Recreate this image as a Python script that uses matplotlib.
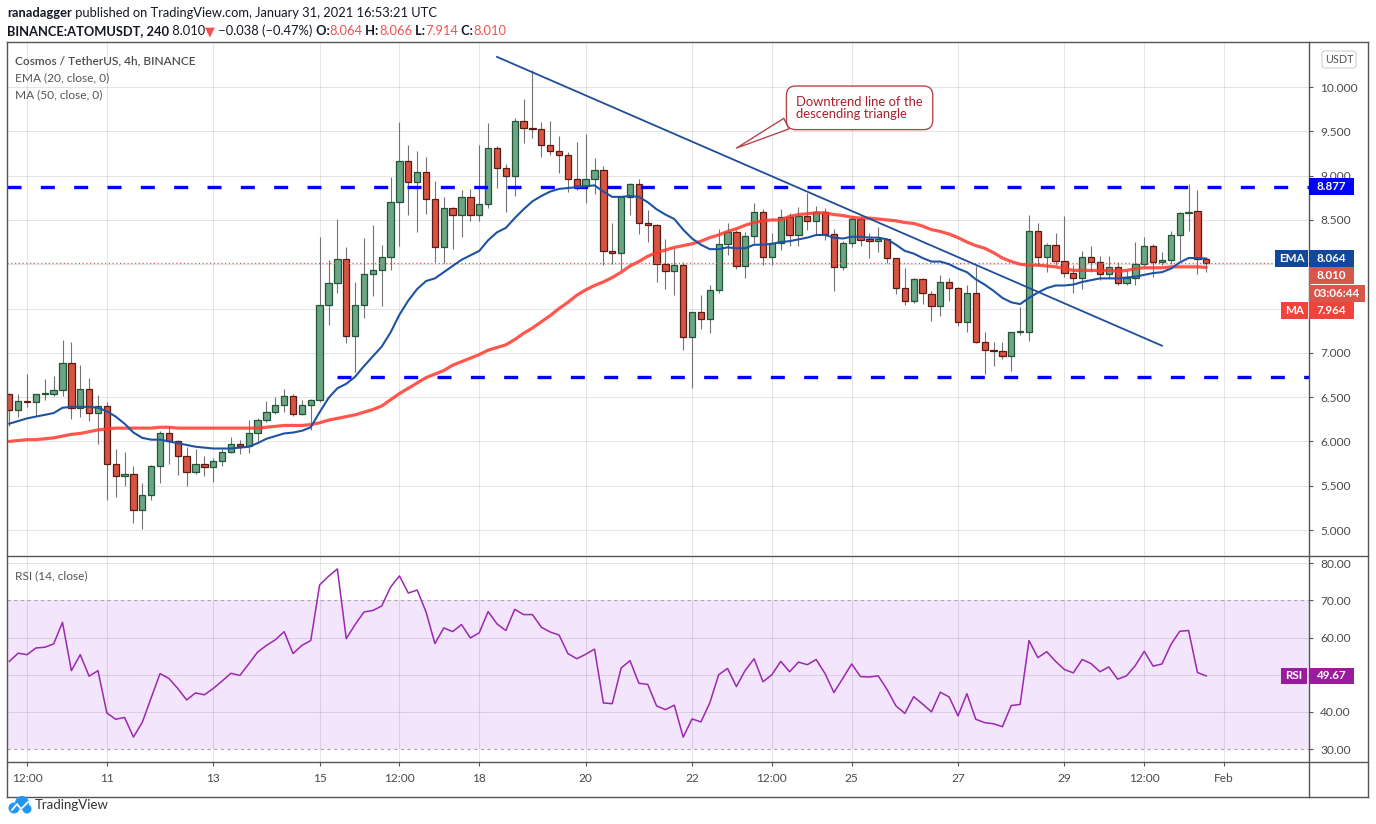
"""ATOM/USDT 4h chart in TradingView style: candles, EMA20, MA50, levels, RSI."""

import matplotlib

matplotlib.use("Agg")
import matplotlib.pyplot as plt
import numpy as np
import pandas as pd
from matplotlib.lines import Line2D
from matplotlib.patches import Circle, FancyBboxPatch, Rectangle
from matplotlib.ticker import FuncFormatter
from matplotlib.transforms import IdentityTransform

plt.rcParams["font.family"] = ["Lato", "DejaVu Sans"]

# ---------------------------------------------------------------- data
first_candle = "2021-01-09 04:00"

opens = [
    6.53, 6.35, 6.46, 6.44, 6.53, 6.54, 6.58, 6.88, 6.38, 6.59,
    6.32, 6.40, 5.74, 5.61, 5.63, 5.23, 5.40, 5.72, 6.09, 6.01,
    5.84, 5.65, 5.74, 5.71, 5.78, 5.88, 5.97, 5.95, 6.09, 6.24,
    6.33, 6.41, 6.51, 6.31, 6.41, 6.47, 7.54, 7.79, 8.06, 7.19,
    7.54, 7.89, 7.94, 8.08, 8.70, 9.16, 8.93, 9.04, 8.74, 8.19,
    8.63, 8.56, 8.76, 8.55, 8.68, 9.31, 9.09, 8.99, 9.62, 9.54,
    9.53, 9.35, 9.28, 9.23, 8.96, 8.88, 8.96, 9.06, 8.15, 8.13,
    8.76, 8.90, 8.47, 8.44, 8.00, 7.92, 7.99, 7.18, 7.46, 7.38,
    7.71, 8.23, 8.36, 7.98, 8.32, 8.59, 8.08, 8.24, 8.53, 8.33,
    8.54, 8.49, 8.59, 8.34, 7.97, 8.24, 8.51, 8.28, 8.26, 8.28,
    8.07, 7.73, 7.59, 7.83, 7.66, 7.53, 7.80, 7.73, 7.35, 7.67,
    7.12, 7.03, 7.02, 6.96, 7.23, 7.24, 8.38, 8.08, 8.22, 8.04,
    7.90, 7.84, 8.08, 8.02, 7.89, 7.97, 7.79, 7.84, 8.00, 8.21,
    8.02, 8.05, 8.33, 8.58, 8.60, 8.064,
]
highs = [
    6.55, 6.53, 6.76, 6.54, 6.70, 6.74, 7.14, 7.12, 6.86, 6.72,
    6.52, 6.45, 5.92, 5.88, 5.72, 5.53, 5.73, 6.12, 6.17, 6.02,
    5.94, 5.91, 5.83, 5.81, 5.91, 6.05, 6.02, 6.24, 6.26, 6.46,
    6.50, 6.59, 6.53, 6.47, 6.48, 8.31, 8.05, 8.51, 8.19, 7.80,
    8.30, 8.44, 8.22, 8.98, 9.61, 9.35, 9.28, 9.21, 8.94, 8.76,
    8.65, 8.84, 8.85, 9.34, 9.59, 9.33, 9.13, 9.65, 9.87, 10.19,
    9.61, 9.62, 9.45, 9.27, 9.38, 9.47, 9.20, 9.11, 8.47, 8.77,
    8.92, 8.96, 8.61, 8.45, 8.28, 8.18, 8.02, 7.46, 7.65, 7.77,
    8.40, 8.47, 8.39, 8.36, 8.69, 8.62, 8.35, 8.62, 8.58, 8.65,
    8.80, 8.66, 8.63, 8.40, 8.26, 8.54, 8.54, 8.35, 8.42, 8.30,
    8.07, 7.96, 7.85, 7.85, 7.70, 7.88, 7.85, 7.74, 7.76, 7.98,
    7.24, 7.12, 7.12, 7.24, 7.52, 8.55, 8.46, 8.24, 8.35, 8.54,
    7.99, 8.15, 8.21, 8.09, 8.09, 8.03, 7.93, 8.25, 8.31, 8.23,
    8.14, 8.38, 8.59, 8.90, 8.84, 8.066,
]
lows = [
    6.17, 6.27, 6.39, 6.29, 6.47, 6.51, 6.51, 6.25, 6.27, 6.23,
    5.97, 5.34, 5.37, 5.50, 5.08, 5.01, 5.34, 5.53, 5.74, 5.62,
    5.50, 5.63, 5.61, 5.54, 5.72, 5.87, 5.86, 5.87, 6.01, 6.22,
    6.31, 6.33, 6.29, 6.30, 6.13, 6.44, 7.31, 7.68, 7.11, 6.78,
    7.39, 7.64, 7.53, 7.93, 8.21, 8.56, 8.36, 8.57, 8.03, 8.01,
    8.17, 8.31, 8.49, 8.49, 8.63, 8.86, 8.59, 8.77, 9.37, 9.43,
    9.21, 9.23, 9.03, 8.82, 8.84, 8.69, 8.79, 7.99, 8.00, 7.94,
    8.55, 8.34, 8.25, 7.80, 7.72, 7.65, 7.03, 6.60, 7.27, 7.22,
    7.68, 8.10, 7.95, 7.84, 8.24, 7.99, 7.99, 8.16, 8.21, 8.21,
    8.39, 8.33, 8.27, 7.70, 7.94, 8.19, 8.21, 8.07, 8.14, 8.01,
    7.66, 7.54, 7.56, 7.55, 7.36, 7.41, 7.59, 7.30, 7.23, 7.11,
    6.76, 6.85, 6.93, 6.80, 7.20, 7.13, 7.98, 7.91, 7.99, 7.86,
    7.68, 7.72, 7.91, 7.82, 7.84, 7.76, 7.76, 7.77, 7.98, 7.86,
    7.99, 8.00, 8.05, 8.38, 7.89, 7.914,
]
closes = [
    6.35, 6.46, 6.44, 6.53, 6.54, 6.58, 6.88, 6.38, 6.59, 6.32,
    6.40, 5.74, 5.61, 5.63, 5.23, 5.40, 5.72, 6.09, 6.01, 5.84,
    5.65, 5.74, 5.71, 5.78, 5.88, 5.97, 5.95, 6.09, 6.24, 6.33,
    6.41, 6.51, 6.31, 6.41, 6.47, 7.54, 7.79, 8.06, 7.19, 7.54,
    7.89, 7.94, 8.08, 8.70, 9.16, 8.93, 9.04, 8.74, 8.19, 8.63,
    8.56, 8.76, 8.55, 8.68, 9.31, 9.09, 8.99, 9.62, 9.54, 9.53,
    9.35, 9.28, 9.23, 8.96, 8.88, 8.96, 9.06, 8.15, 8.13, 8.76,
    8.90, 8.47, 8.44, 8.00, 7.92, 7.99, 7.18, 7.46, 7.38, 7.71,
    8.23, 8.36, 7.98, 8.32, 8.59, 8.08, 8.24, 8.53, 8.33, 8.54,
    8.49, 8.59, 8.34, 7.97, 8.24, 8.51, 8.27, 8.26, 8.28, 8.07,
    7.73, 7.59, 7.83, 7.68, 7.53, 7.80, 7.73, 7.35, 7.68, 7.12,
    7.03, 7.02, 6.96, 7.23, 7.24, 8.38, 8.08, 8.22, 8.04, 7.90,
    7.84, 8.08, 8.02, 7.89, 7.97, 7.79, 7.84, 8.00, 8.21, 8.02,
    8.05, 8.33, 8.58, 8.59, 8.06, 8.010,
]
ema20 = [
    6.20, 6.23, 6.26, 6.28, 6.30, 6.32, 6.38, 6.39, 6.39, 6.39,
    6.38, 6.34, 6.28, 6.20, 6.10, 6.04, 6.02, 6.02, 6.00, 5.98,
    5.96, 5.94, 5.93, 5.92, 5.92, 5.92, 5.93, 5.94, 5.98, 6.03,
    6.06, 6.09, 6.10, 6.12, 6.16, 6.33, 6.49, 6.60, 6.65, 6.73,
    6.85, 6.96, 7.07, 7.23, 7.43, 7.59, 7.72, 7.81, 7.84, 7.91,
    7.98, 8.05, 8.10, 8.15, 8.27, 8.36, 8.41, 8.52, 8.62, 8.71,
    8.77, 8.82, 8.85, 8.86, 8.87, 8.88, 8.89, 8.82, 8.76, 8.76,
    8.77, 8.76, 8.70, 8.62, 8.56, 8.51, 8.39, 8.29, 8.22, 8.17,
    8.17, 8.19, 8.18, 8.18, 8.22, 8.22, 8.23, 8.25, 8.26, 8.28,
    8.30, 8.33, 8.33, 8.30, 8.29, 8.31, 8.31, 8.30, 8.30, 8.28,
    8.22, 8.15, 8.12, 8.07, 8.03, 8.03, 8.00, 7.95, 7.91, 7.83,
    7.77, 7.70, 7.62, 7.57, 7.55, 7.62, 7.68, 7.73, 7.76, 7.76,
    7.77, 7.80, 7.82, 7.84, 7.84, 7.84, 7.85, 7.86, 7.88, 7.90,
    7.91, 7.95, 8.02, 8.07, 8.07, 8.064,
]
ma50 = [
    6.00, 6.01, 6.02, 6.02, 6.03, 6.04, 6.06, 6.08, 6.09, 6.11,
    6.13, 6.14, 6.15, 6.15, 6.15, 6.15, 6.15, 6.16, 6.16, 6.15,
    6.15, 6.15, 6.15, 6.15, 6.15, 6.15, 6.15, 6.15, 6.15, 6.16,
    6.17, 6.18, 6.18, 6.18, 6.19, 6.21, 6.24, 6.26, 6.28, 6.30,
    6.33, 6.36, 6.40, 6.47, 6.54, 6.60, 6.66, 6.72, 6.76, 6.80,
    6.86, 6.90, 6.94, 6.98, 7.03, 7.06, 7.09, 7.15, 7.22, 7.28,
    7.35, 7.42, 7.50, 7.57, 7.65, 7.71, 7.76, 7.80, 7.85, 7.91,
    7.98, 8.03, 8.09, 8.13, 8.16, 8.19, 8.21, 8.23, 8.26, 8.30,
    8.33, 8.37, 8.40, 8.44, 8.47, 8.49, 8.50, 8.50, 8.54, 8.56,
    8.57, 8.58, 8.58, 8.56, 8.55, 8.53, 8.52, 8.52, 8.51, 8.50,
    8.49, 8.47, 8.46, 8.43, 8.39, 8.37, 8.34, 8.30, 8.25, 8.21,
    8.18, 8.13, 8.07, 8.03, 8.00, 7.99, 7.99, 7.98, 7.97, 7.95,
    7.93, 7.93, 7.93, 7.93, 7.93, 7.92, 7.93, 7.95, 7.96, 7.96,
    7.96, 7.97, 7.97, 7.97, 7.97, 7.964,
]
rsi14 = [
    53.6, 55.8, 55.4, 57.2, 57.4, 58.3, 64.1, 51.1, 55.4, 49.6,
    51.1, 39.7, 38.0, 38.5, 33.2, 37.2, 43.8, 50.3, 49.0, 46.3,
    43.2, 45.1, 44.6, 46.3, 48.3, 50.4, 49.8, 52.9, 56.1, 57.9,
    59.4, 61.6, 55.7, 57.9, 59.2, 74.2, 76.5, 78.5, 59.7, 63.5,
    66.9, 67.3, 68.5, 73.6, 76.6, 72.0, 72.8, 66.9, 58.4, 62.6,
    61.6, 63.5, 59.9, 61.3, 67.0, 63.7, 61.9, 67.6, 66.2, 66.2,
    62.8, 61.5, 60.7, 55.7, 54.3, 55.5, 56.9, 42.4, 42.2, 51.8,
    53.8, 47.7, 47.4, 41.6, 40.6, 41.8, 33.2, 38.1, 37.3, 42.4,
    50.0, 51.7, 46.8, 51.2, 54.3, 48.1, 50.0, 53.6, 50.8, 53.4,
    52.7, 54.1, 50.3, 45.2, 49.0, 52.9, 49.5, 49.4, 49.7, 46.0,
    41.6, 39.6, 44.1, 42.1, 40.0, 45.3, 44.0, 38.9, 44.9, 38.0,
    37.1, 36.8, 36.0, 41.7, 42.0, 59.2, 54.6, 56.2, 53.6, 51.4,
    50.5, 54.1, 53.0, 50.8, 52.1, 48.8, 49.7, 52.5, 56.3, 52.3,
    52.9, 58.1, 61.7, 61.9, 50.6, 49.67,
]

tick_times = [
    "2021-01-09 12:00", "2021-01-11", "2021-01-13", "2021-01-15",
    "2021-01-16 12:00", "2021-01-18", "2021-01-20", "2021-01-22",
    "2021-01-23 12:00", "2021-01-25", "2021-01-27", "2021-01-29",
    "2021-01-30 12:00", "2021-02-01",
]
tick_labels = ["12:00", "11", "13", "15", "12:00", "18", "20", "22",
               "12:00", "25", "27", "29", "12:00", "Feb"]

# price-scale labels that sit under the value tags in the original
hidden_price_ticks = [7.5, 8.0]
hidden_rsi_ticks = [50]

resistance = 8.877
support = 6.726
support_from = "2021-01-15 08:00"
trend_times = ["2021-01-18 08:00", "2021-01-30 20:00"]
trend_prices = [10.34, 7.08]
callout_tip = ("2021-01-22 20:00", 9.31)
callout_text_at = ("2021-01-23 23:00", 9.765)
callout_text = "Downtrend line of the\ndescending triangle"
last_price = 8.010
countdown = "03:06:44"

# ---------------------------------------------------------------- layout
W, H = 1376, 824
t0 = pd.Timestamp(first_candle)


def idx(ts):
    return (pd.Timestamp(ts) - t0) / pd.Timedelta(hours=4)


o = np.array(opens)
hi = np.array(highs)
lo = np.array(lows)
c = np.array(closes)
x = np.arange(len(c))

fig = plt.figure(figsize=(W / 100, H / 100), dpi=100)
fig.patch.set_facecolor("white")

ax = fig.add_axes([7 / W, 1 - 555 / H, 1302 / W, 513 / H])
ax2 = fig.add_axes([7 / W, 1 - 762 / H, 1302 / W, 206 / H], sharex=ax)
XLIM = (-0.26, 146.58)
ax.set_xlim(*XLIM)
ax.set_ylim(4.718, 10.508)
ax2.set_ylim(26.5, 81.97)

tick_x = [idx(t) for t in tick_times]
GRID = dict(color="black", alpha=0.1, lw=0.8)

for a in (ax, ax2):
    for s in a.spines.values():
        s.set_visible(False)
    a.set_facecolor("none")


def masked(fmt, hidden):
    return FuncFormatter(
        lambda v, _: "" if any(abs(v - h) < 1e-6 for h in hidden) else fmt % v)


# ---- main price pane
ax.set_xticks(tick_x)
ax.yaxis.tick_right()
ax.set_yticks(np.arange(5.0, 10.01, 0.5))
ax.yaxis.set_major_formatter(masked("%.3f", hidden_price_ticks))
ax.tick_params(axis="x", length=0, labelbottom=False)
ax.tick_params(axis="y", length=3, color="#555555", labelsize=8.6,
               labelcolor="#4a4a4a", pad=5)
ax.grid(True, zorder=0, **GRID)

up = c >= o
body_lo = np.minimum(o, c)
body_h = np.maximum(np.abs(c - o), 0.012)
ax.vlines(x, lo, hi, color="#737373", lw=0.8, zorder=2)
ax.bar(x[up], body_h[up], bottom=body_lo[up], width=0.71, color="#6BA583",
       edgecolor="#225437", linewidth=0.9, zorder=3)
ax.bar(x[~up], body_h[~up], bottom=body_lo[~up], width=0.71, color="#D75442",
       edgecolor="#5B1A13", linewidth=0.9, zorder=3)

ax.plot(x, ma50, color="#FF3A2F", lw=2.3, alpha=0.85, zorder=4,
        solid_capstyle="round")
ax.plot(x, ema20, color="#1E53A4", lw=1.5, zorder=5)

ax.axhline(resistance, color="#0000FF", lw=2.4, dashes=(4.2, 5.8), zorder=4)
ax.plot([idx(support_from), XLIM[1]], [support, support], color="#0000FF",
        lw=2.4, dashes=(4.2, 5.8), zorder=4)
ax.plot([idx(t) for t in trend_times], trend_prices, color="#214C98",
        lw=1.3, zorder=5)
ax.axhline(last_price, color="#EF5350", lw=0.9, ls=(0, (1, 2)), zorder=4)

ax.annotate(
    callout_text,
    xy=(idx(callout_tip[0]), callout_tip[1]),
    xytext=(idx(callout_text_at[0]), callout_text_at[1]),
    ha="left", va="center", color="#AA1F2B", fontsize=9.4,
    linespacing=1.0,
    bbox=dict(boxstyle="round,pad=0.75,rounding_size=0.7", fc="white",
              ec="#B5474B", lw=1),
    arrowprops=dict(arrowstyle="wedge,tail_width=0.9,shrink_factor=0.5",
                    fc="white", ec="#B5474B", lw=1, relpos=(0.03, 0.12),
                    shrinkA=0, shrinkB=0),
    zorder=7,
)

ax.text(8 / 1302, 1 - 22 / 513, "Cosmos / TetherUS, 4h, BINANCE",
        transform=ax.transAxes, fontsize=8.6, color="#4d4d4d",
        va="baseline", fontweight="semibold")
ax.text(8 / 1302, 1 - 39.5 / 513, "EMA (20, close, 0)", transform=ax.transAxes,
        fontsize=8.6, color="#555555", va="baseline")
ax.text(8 / 1302, 1 - 56.5 / 513, "MA (50, close, 0)", transform=ax.transAxes,
        fontsize=8.6, color="#555555", va="baseline")

# ---- RSI pane
ax2.axhspan(30, 70, color="#F3E6FC", zorder=0, lw=0)
for lvl in (40, 50, 60, 80):
    ax2.axhline(lvl, zorder=1, **GRID)
for lvl in (30, 70):
    ax2.axhline(lvl, color="#A8A8A8", lw=0.8, ls=(0, (3, 3)), zorder=1)
ax2.grid(True, axis="x", zorder=1, **GRID)
ax2.plot(x, rsi14, color="#9C27B0", lw=1.1, zorder=3)
ax2.yaxis.tick_right()
ax2.set_yticks([30, 40, 50, 60, 70, 80])
ax2.yaxis.set_major_formatter(masked("%.2f", hidden_rsi_ticks))
ax2.set_xticks(tick_x)
ax2.set_xticklabels(tick_labels)
ax2.tick_params(axis="y", length=3, color="#555555", labelsize=8.6,
                labelcolor="#4a4a4a", pad=5)
ax2.tick_params(axis="x", length=3, color="#555555", labelsize=8.6,
                labelcolor="#4a4a4a", pad=5)
ax2.text(8 / 1302, 1 - 23 / 206, "RSI (14, close)", transform=ax2.transAxes,
         fontsize=8.6, color="#555555", va="baseline")

# ---- frame
ID = IdentityTransform()
FRAME = dict(color="#555555", lw=1.0, transform=ID, zorder=8)


def seg(x0, y0, x1, y1):
    fig.add_artist(Line2D([x0, x1], [H - y0, H - y1], **FRAME))


seg(7, 42, 1368, 42)
seg(7, 797, 1368, 797)
seg(7, 42, 7, 797)
seg(1368, 42, 1368, 797)
seg(1309, 42, 1309, 797)
seg(7, 555.5, 1368, 555.5)
seg(7, 762, 1368, 762)


# ---- price-scale tags
def tag(x0, x1, yc, text, fc, h=17):
    fig.add_artist(Rectangle((x0, yc - h / 2), x1 - x0, h, transform=ID,
                             fc=fc, ec="none", zorder=9))
    fig.text((x0 + x1) / 2, yc, text, transform=ID, ha="center", va="center",
             color="white", fontsize=8.4, fontweight="bold", zorder=10)


def ydisp(a, v):
    return a.transData.transform((0, v))[1]


tag(1309, 1354, ydisp(ax, resistance), f"{resistance:.3f}", "#0000FF")
y_ema = ydisp(ax, ema20[-1])
step = 17.4
tag(1275, 1308, y_ema, "EMA", "#12479E")
tag(1309, 1354, y_ema, f"{ema20[-1]:.3f}", "#12479E")
tag(1309, 1354, y_ema - step, f"{last_price:.3f}", "#D9574A")
tag(1309, 1365, y_ema - 2 * step, countdown, "#D9574A")
tag(1281, 1308, y_ema - 3 * step, "MA", "#F0443A")
tag(1309, 1354, y_ema - 3 * step, f"{ma50[-1]:.3f}", "#F0443A")
y_rsi = ydisp(ax2, rsi14[-1])
tag(1281, 1307, y_rsi, "RSI", "#9A1C9E", h=16)
tag(1309, 1354, y_rsi, f"{rsi14[-1]:.2f}", "#9A1C9E", h=16)

fig.add_artist(FancyBboxPatch((1322, H - 68), 34, 17, transform=ID,
                              boxstyle="round,pad=0,rounding_size=3",
                              fc="white", ec="#D0D0D0", lw=0.8, zorder=9))
fig.text(1339, H - 59.5, "USDT", transform=ID, ha="center", va="center",
         fontsize=7.8, color="#555555", zorder=10)

# ---- header
renderer = fig.canvas.get_renderer()
DARK = "#131722"
RED = "#EF5350"


def chain(x0, py, parts, size=9.3):
    xx = x0
    for s, col, wt in parts:
        t = fig.text(xx, H - py, s, transform=ID, fontsize=size, color=col,
                     fontweight=wt, va="baseline", ha="left")
        xx = t.get_window_extent(renderer).x1


chain(7, 17, [("ranadagger", DARK, "bold"),
              (" published on TradingView.com, January 31, 2021 16:53:21 UTC",
               DARK, "normal")])
chain(7, 35, [("BINANCE:ATOMUSDT, 240", DARK, "bold"),
              (" 8.010", DARK, "normal"), ("\u25bc", RED, "normal"),
              (" \u22120.038 (\u22120.47%)", DARK, "normal"),
              (" O:", DARK, "bold"), ("8.064", RED, "normal"),
              (" H:", DARK, "bold"), ("8.066", RED, "normal"),
              (" L:", DARK, "bold"), ("7.914", RED, "normal"),
              (" C:", DARK, "bold"), ("8.010", RED, "normal")])

# ---- TradingView mark
for cx, cy, r in [(14, 808, 5.5), (22, 803, 7), (27, 809, 4.5)]:
    fig.add_artist(Circle((cx, H - cy), r, transform=ID, fc="#2196F3",
                          ec="none", zorder=9))
fig.add_artist(Line2D([12, 17, 21, 28], [H - 810, H - 804, H - 809, H - 802],
                      transform=ID, color="white", lw=1.3, zorder=10))
fig.text(35, H - 805, "TradingView", transform=ID, fontsize=9.5,
         color="#333333", va="center", ha="left")

fig.savefig("out.png", dpi=100, facecolor="white")
